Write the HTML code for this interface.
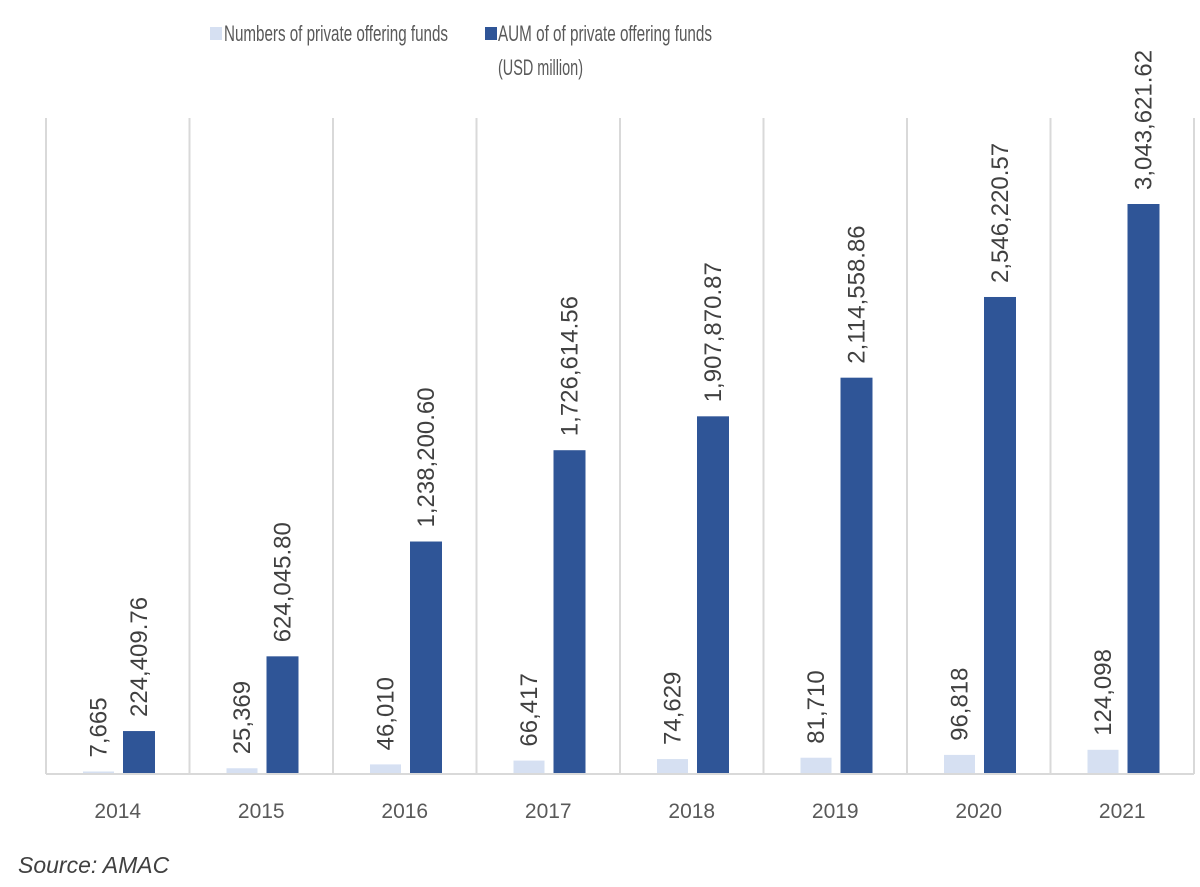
<!DOCTYPE html>
<html><head><meta charset="utf-8"><style>
html,body{margin:0;padding:0;background:#fff;}
svg{display:block;font-family:"Liberation Sans",sans-serif;}
</style></head><body>
<svg width="1200" height="887" viewBox="0 0 1200 887" xmlns="http://www.w3.org/2000/svg">
<g stroke="#d9d9d9" stroke-width="2">
<line x1="46" y1="118" x2="46" y2="774"/>
<line x1="189.5" y1="118" x2="189.5" y2="774"/>
<line x1="333" y1="118" x2="333" y2="774"/>
<line x1="476.5" y1="118" x2="476.5" y2="774"/>
<line x1="620" y1="118" x2="620" y2="774"/>
<line x1="763.5" y1="118" x2="763.5" y2="774"/>
<line x1="907" y1="118" x2="907" y2="774"/>
<line x1="1050.5" y1="118" x2="1050.5" y2="774"/>
<line x1="1194" y1="118" x2="1194" y2="774"/>
<line x1="46" y1="774" x2="1194" y2="774"/>
</g>
<g fill="#d6e0f2">
<rect x="83" y="771.5" width="31" height="1.5"/>
<rect x="226.5" y="768.26" width="31" height="4.74"/>
<rect x="370" y="764.4" width="31" height="8.6"/>
<rect x="513.5" y="760.58" width="31" height="12.42"/>
<rect x="657" y="759.05" width="31" height="13.95"/>
<rect x="800.5" y="757.72" width="31" height="15.28"/>
<rect x="944" y="754.9" width="31" height="18.1"/>
<rect x="1087.5" y="749.8" width="31" height="23.2"/>
</g>
<g fill="#2f5597">
<rect x="123" y="731.05" width="32" height="41.95"/>
<rect x="266.5" y="656.33" width="32" height="116.67"/>
<rect x="410" y="541.52" width="32" height="231.48"/>
<rect x="553.5" y="450.21" width="32" height="322.79"/>
<rect x="697" y="416.32" width="32" height="356.68"/>
<rect x="840.5" y="377.68" width="32" height="395.32"/>
<rect x="984" y="296.98" width="32" height="476.02"/>
<rect x="1127.5" y="204" width="32" height="569"/>
</g>
<g font-size="24" fill="#404040">
<text transform="translate(106.5,757.5) rotate(-90)">7,665</text>
<text transform="translate(250,754.3) rotate(-90)">25,369</text>
<text transform="translate(393.5,750.4) rotate(-90)">46,010</text>
<text transform="translate(537,746.6) rotate(-90)">66,417</text>
<text transform="translate(680.5,745) rotate(-90)">74,629</text>
<text transform="translate(824,743.7) rotate(-90)">81,710</text>
<text transform="translate(967.5,740.9) rotate(-90)">96,818</text>
<text transform="translate(1111,735.8) rotate(-90)">124,098</text>
<text transform="translate(147,717) rotate(-90)">224,409.76</text>
<text transform="translate(290.5,642.3) rotate(-90)">624,045.80</text>
<text transform="translate(434,527.5) rotate(-90)">1,238,200.60</text>
<text transform="translate(577.5,436.2) rotate(-90)">1,726,614.56</text>
<text transform="translate(721,402.3) rotate(-90)">1,907,870.87</text>
<text transform="translate(864.5,363.7) rotate(-90)">2,114,558.86</text>
<text transform="translate(1008,283) rotate(-90)">2,546,220.57</text>
<text transform="translate(1151.5,190) rotate(-90)">3,043,621.62</text>
</g>
<g font-size="21" fill="#595959" text-anchor="middle">
<text x="117.75" y="818">2014</text>
<text x="261.25" y="818">2015</text>
<text x="404.75" y="818">2016</text>
<text x="548.25" y="818">2017</text>
<text x="691.75" y="818">2018</text>
<text x="835.25" y="818">2019</text>
<text x="978.75" y="818">2020</text>
<text x="1122.25" y="818">2021</text>
</g>
<rect x="210" y="27" width="12" height="13" fill="#d6e0f2"/>
<text x="224" y="41" font-size="22" fill="#595959" textLength="224" lengthAdjust="spacingAndGlyphs">Numbers of private offering funds</text>
<rect x="485" y="27" width="12" height="13" fill="#2f5597"/>
<text x="498" y="41" font-size="22" fill="#595959" textLength="214" lengthAdjust="spacingAndGlyphs">AUM of of private offering funds</text>
<text x="498" y="75" font-size="22" fill="#595959" textLength="85" lengthAdjust="spacingAndGlyphs">(USD million)</text>
<text x="18" y="873" font-size="23" font-style="italic" fill="#404040">Source: AMAC</text>
</svg>
</body></html>
